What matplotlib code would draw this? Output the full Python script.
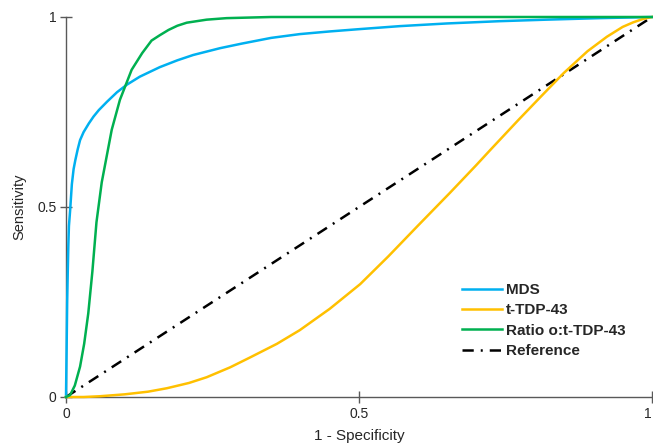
import matplotlib
matplotlib.use("Agg")
import matplotlib.pyplot as plt

plt.rcParams['font.family'] = ['Liberation Sans', 'DejaVu Sans']

# Data
mds_x = [0, 0.001, 0.002, 0.003, 0.004, 0.005, 0.007, 0.010, 0.013, 0.016, 0.020,
         0.024, 0.030, 0.039, 0.047, 0.056, 0.070, 0.087, 0.104, 0.126, 0.160,
         0.190, 0.217, 0.263, 0.300, 0.350, 0.399, 0.450, 0.500, 0.570, 0.650,
         0.740, 0.820, 0.911, 1.0]
mds_y = [0, 0.12, 0.25, 0.33, 0.40, 0.45, 0.49, 0.56, 0.600, 0.624, 0.652,
         0.676, 0.697, 0.720, 0.738, 0.755, 0.777, 0.802, 0.822, 0.843, 0.868,
         0.886, 0.900, 0.918, 0.930, 0.945, 0.955, 0.962, 0.968, 0.976, 0.983,
         0.989, 0.993, 0.997, 1.0]

tdp_x = [0, 0.030, 0.058, 0.100, 0.140, 0.172, 0.210, 0.240, 0.280, 0.314, 0.360,
         0.399, 0.450, 0.502, 0.550, 0.600, 0.655, 0.700, 0.724, 0.772, 0.810,
         0.849, 0.890, 0.923, 0.950, 0.968, 0.985, 1.0]
tdp_y = [0, 0.0, 0.002, 0.007, 0.014, 0.023, 0.037, 0.052, 0.078, 0.104, 0.140,
         0.176, 0.232, 0.297, 0.370, 0.450, 0.537, 0.610, 0.650, 0.729, 0.790,
         0.852, 0.910, 0.948, 0.974, 0.986, 0.995, 1.0]

ratio_x = [0, 0.007, 0.015, 0.024, 0.031, 0.038, 0.045, 0.052, 0.061, 0.078, 0.092,
           0.112, 0.130, 0.146, 0.160, 0.175, 0.190, 0.206, 0.240, 0.274, 0.350, 1.0]
ratio_y = [0, 0.005, 0.030, 0.080, 0.140, 0.220, 0.330, 0.460, 0.565, 0.703, 0.782,
           0.861, 0.905, 0.938, 0.952, 0.966, 0.977, 0.985, 0.993, 0.997, 1.0, 1.0]

ref_x = [0, 1]
ref_y = [0, 1]

ticks = [0, 0.5, 1]
tick_labels = ["0", "0.5", "1"]

fig = plt.figure(figsize=(6.53, 4.46), dpi=100)
ax = fig.add_axes([66/653, 1 - 397/446, 586/653, 380/446])

lw = 1.8
ax.plot(mds_x, mds_y, color='#00B0F0', lw=lw, label='MDS', clip_on=False, zorder=3)
ax.plot(tdp_x, tdp_y, color='#FFC000', lw=lw, label='t-TDP-43', clip_on=False, zorder=3)
ax.plot(ratio_x, ratio_y, color='#00B050', lw=lw, label='Ratio o:t-TDP-43', clip_on=False, zorder=3)
ax.plot(ref_x, ref_y, color='black', lw=lw, linestyle=(0, (4.5, 2.8, 0.8, 2.8)),
        label='Reference', clip_on=False, zorder=2)

ax.set_xlim(0, 1)
ax.set_ylim(0, 1)
ax.set_xticks(ticks)
ax.set_xticklabels(tick_labels)
ax.set_yticks(ticks)
ax.set_yticklabels(tick_labels)

for s in ['top', 'right']:
    ax.spines[s].set_visible(False)
for s in ['left', 'bottom']:
    ax.spines[s].set_color('#595959')
    ax.spines[s].set_linewidth(1.0)

ax.tick_params(axis='both', direction='inout', length=8, width=1, color='#595959',
               labelsize=10, labelcolor='#262626', pad=3)
# keep the last x tick label inside the canvas
ax.get_xticklabels()[-1].set_horizontalalignment('right')

ax.set_xlabel('1 - Specificity', fontsize=11, color='#262626', labelpad=6)
ax.set_ylabel('Sensitivity', fontsize=10.5, color='#262626', labelpad=8)

leg = ax.legend(loc='upper left', bbox_to_anchor=(462/653, 1 - 283/446),
                bbox_transform=fig.transFigure, frameon=False,
                prop={'weight': 'bold', 'size': 11}, handlelength=2.6,
                handletextpad=0.3, labelspacing=0.42, borderpad=0, borderaxespad=0)
for t in leg.get_texts():
    t.set_color('#262626')

fig.savefig('out.png', dpi=100)
